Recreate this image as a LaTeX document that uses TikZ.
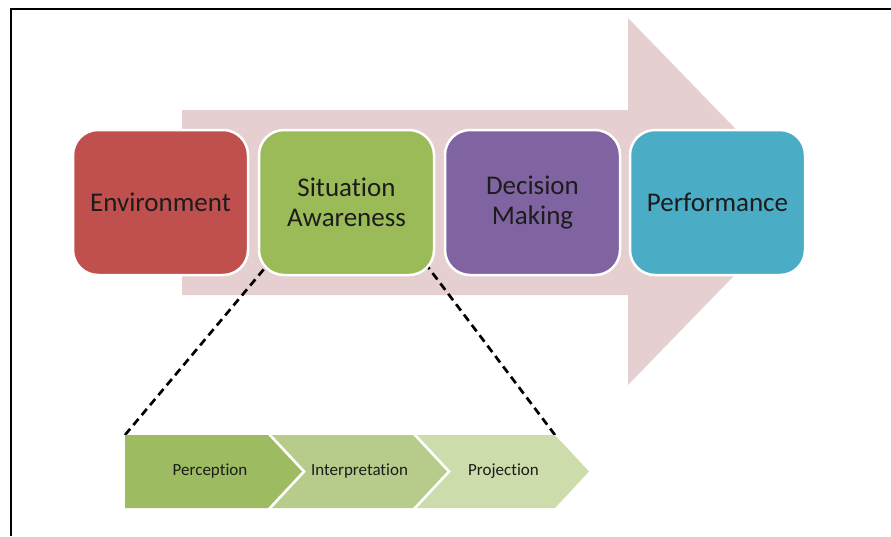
\documentclass[tikz,border=0pt]{standalone}
\usepackage{fontspec}
\setmainfont{Carlito}[Ligatures=NoCommon]
\usetikzlibrary{positioning,backgrounds}

\definecolor{envred}{HTML}{C0504D}
\definecolor{sagreen}{HTML}{9BBB59}
\definecolor{dmpurple}{HTML}{8064A2}
\definecolor{perfblue}{HTML}{4BACC6}
\definecolor{flowpink}{HTML}{E6CFD1}
\definecolor{stepone}{HTML}{9DBB61}
\definecolor{steptwo}{HTML}{B7CC8A}
\definecolor{stepthree}{HTML}{CDDCAB}
\definecolor{labelink}{HTML}{1C1C1C}

\begin{document}
\begin{tikzpicture}[
    x=1pt, y=-1pt,
    stage/.style={rectangle, rounded corners=25pt, draw=white, line width=2.5pt, minimum width=175pt, minimum height=145pt, outer sep=0pt, align=center, text=labelink, font=\fontsize{27}{30}\selectfont},
    phase/.style={text=labelink, font=\fontsize{17}{20}\selectfont},
    zoomline/.style={draw=black, line width=2.7pt, dash pattern=on 8pt off 5pt},
    node distance=11pt
]
    \useasboundingbox (0,0) rectangle (891,536);

    % outer frame
    \draw[line width=1.5pt] (11,536) -- (11,9) -- (891,9);

    % main stages
    \node[stage, fill=envred] (env) at (160.5,202.5) {Environment};
    \node[stage, fill=sagreen, right=of env] (sa) {Situation\\Awareness};
    \node[stage, fill=dmpurple, right=of sa] (dm) {Decision\\Making};
    \node[stage, fill=perfblue, right=10pt of dm] (perf) {Performance};

    % SA levels as chevrons
    \fill[stepone] (125,435) -- (268,435) -- (302,471.5) -- (268,508) -- (125,508) -- cycle;
    \fill[steptwo] (272,435) -- (413,435) -- (447,471.5) -- (413,508) -- (272,508) -- (306,471.5) -- cycle;
    \fill[stepthree] (417,435) -- (555,435) -- (589,471.5) -- (555,508) -- (417,508) -- (451,471.5) -- cycle;
    \coordinate (perNW) at (125,435);
    \coordinate (proNE) at (555,435);

    \node[phase] (per) at (210,471.5) {Perception};
    \node[phase] (int) at (359.5,471.5) {Interpretation};
    \node[phase] (pro) at (503.5,471.5) {Projection};

    \begin{scope}[on background layer]
        % flow arrow behind the stages
        \fill[flowpink] (182,110) -- (628,110) -- (628,18) -- (806,201.5)
            -- (628,385) -- (628,295) -- (182,295) -- cycle;
        % zoom-in lines
        \draw[zoomline, shorten >=-12pt] (perNW) -- (sa.south west);
        \draw[zoomline, shorten >=-12pt] (proNE) -- (sa.south east);
    \end{scope}
\end{tikzpicture}
\end{document}
